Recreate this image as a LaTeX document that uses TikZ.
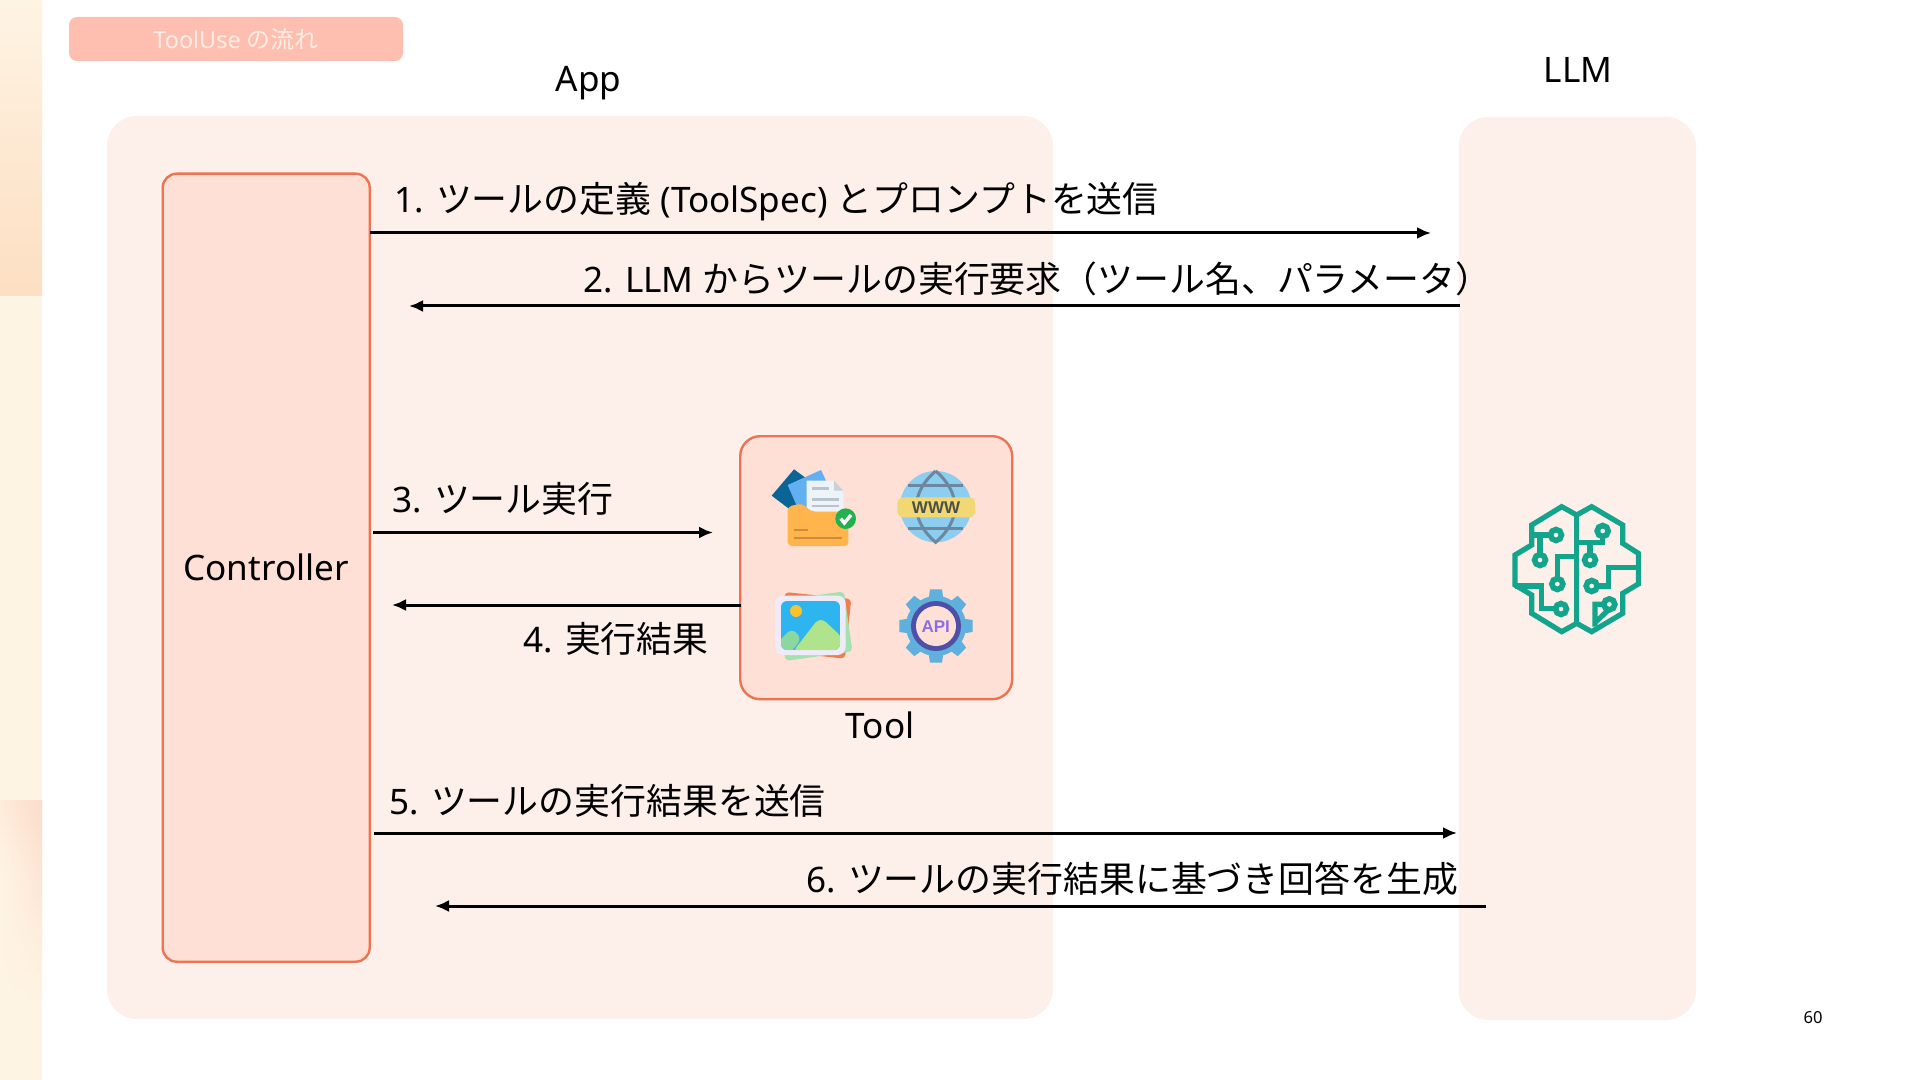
\documentclass[tikz,border=0pt]{standalone}
\usepackage{fontspec}
\setmainfont{Noto Sans}[Scale=0.975]
\newfontfamily\cjk{Noto Sans CJK JP}[Scale=0.997]
\newfontfamily\iconfont{Liberation Sans}
\newcommand{\jp}[1]{{\cjk #1}}
\usetikzlibrary{arrows.meta}
\definecolor{panel}{HTML}{FDEFEA}
\definecolor{boxfill}{HTML}{FEE0D6}
\definecolor{boxline}{HTML}{EE7350}
\definecolor{titlebg}{HTML}{FFBFB0}
\definecolor{titletx}{HTML}{FFEDE6}
\definecolor{strip}{HTML}{FEF4E4}
\definecolor{stripd}{HTML}{FDDFC3}
\definecolor{stripe}{HTML}{FDDCCB}
\definecolor{teal}{HTML}{12A58C}
\definecolor{fdark}{RGB}{10,100,150}
\definecolor{fblue}{RGB}{98,176,242}
\definecolor{fdoc}{RGB}{237,243,248}
\definecolor{fdoc2}{RGB}{200,208,216}
\definecolor{fdocl}{RGB}{185,195,205}
\definecolor{forange}{RGB}{255,181,76}
\definecolor{forange2}{RGB}{205,140,60}
\definecolor{fgreen}{RGB}{34,177,76}
\definecolor{gsea}{RGB}{140,205,240}
\definecolor{gline}{RGB}{108,135,160}
\definecolor{gband}{RGB}{242,216,115}
\definecolor{gtext}{RGB}{75,80,70}
\definecolor{porange}{RGB}{240,125,80}
\definecolor{pgreen}{RGB}{165,225,175}
\definecolor{pframe}{RGB}{240,235,248}
\definecolor{psky}{RGB}{46,180,238}
\definecolor{pmt}{RGB}{175,228,140}
\definecolor{pmt2}{RGB}{140,215,160}
\definecolor{psun}{RGB}{249,194,46}
\definecolor{agear}{RGB}{95,176,220}
\definecolor{aring}{RGB}{79,79,168}
\definecolor{atext}{RGB}{139,111,224}
\tikzset{
  panelbox/.style={fill=panel,draw=none,rounded corners=15pt},
  actorbox/.style={fill=boxfill,draw=boxline,line width=1.2pt},
  flow/.style={-{Latex[length=7pt,width=6pt]},line width=1.5pt,black},
  lbl/.style={anchor=base west,inner sep=0pt,font=\fontsize{18}{22}\selectfont,text=black},
  clbl/.style={anchor=base,inner sep=0pt,font=\fontsize{18}{22}\selectfont,text=black},
  brainline/.style={draw=teal,line width=2.6pt,line join=miter},
  brainnode/.style={draw=teal,line width=2.8pt,fill=panel},
}
\begin{document}
\begin{tikzpicture}[x=0.5pt,y=-0.5pt]
\useasboundingbox (0,0) rectangle (1920,1080);
\fill[white] (0,0) rectangle (1920,1080);
% left strip
\fill[strip] (0,0) rectangle (42,1080);
\shade[top color=strip,bottom color=stripd,middle color=stripd!55!strip] (0,0) rectangle (42,296);
\foreach \t in {0,...,21}{
  \pgfmathsetmacro{\mixr}{max(0,100-4.6*\t)}
  \pgfmathsetmacro{\mixl}{max(0,35-4.6*\t)}
  \pgfmathsetmacro{\yt}{800+9*\t}
  \pgfmathsetmacro{\yb}{810+9*\t}
  \shade[left color=stripe!\mixl!strip,right color=stripe!\mixr!strip] (0,\yt) rectangle (42,\yb);
}
% title
\node[fill=titlebg,rounded corners=4pt,minimum width=167pt,minimum height=22pt,inner sep=0pt,text=titletx,font=\fontsize{12}{14}\selectfont] (title) at (236,39) {ToolUse \jp{の流れ}};
% panels
\path[panelbox] (107,116) rectangle (1053,1019);
\path[panelbox] (1458.5,117) rectangle (1696,1020);
\node[clbl] (app) at (588.5,92) {App};
\node[clbl] (llm) at (1578,83) {LLM};
% controller
\node[actorbox,rounded corners=7pt,minimum width=103.5pt,minimum height=394pt,inner sep=0pt,anchor=north west] (ctrl) at (161.5,172.5) {};
\node[clbl] (ctrltx) at (266,580) {Controller};
% tool
\node[actorbox,rounded corners=10pt,minimum width=136pt,minimum height=131.5pt,inner sep=0pt,anchor=north west] (tool) at (739,435) {};
\node[clbl] (tooltx) at (880,738) {Tool};
% arrow ends
\coordinate (a1s) at (370,233); \coordinate (a1e) at (1431,233);
\coordinate (a2s) at (1460,306); \coordinate (a2e) at (409,306);
\coordinate (a3s) at (373,532.5); \coordinate (a3e) at (713,532.5);
\coordinate (a4s) at (741,605); \coordinate (a4e) at (392,605);
\coordinate (a5s) at (374,833); \coordinate (a5e) at (1457,833);
\coordinate (a6s) at (1486,906); \coordinate (a6e) at (435,906);
\draw[flow] (a1s) -- (a1e);
\draw[flow] (a2s) -- (a2e);
\draw[flow] (a3s) -- (a3e);
\draw[flow] (a4s) -- (a4e);
\draw[flow] (a5s) -- (a5e);
\draw[flow] (a6s) -- (a6e);
% labels
\node[lbl] (l1) at (394,213) {1. \jp{ツールの定義} (ToolSpec) \jp{とプロンプトを送信}};
\node[lbl] (l2) at (583,293) {2. LLM \jp{からツールの実行要求（ツール名、パラメータ）}};
\node[lbl] (l3) at (392,512) {3. \jp{ツール実行}};
\node[lbl] (l4) at (523,652) {4. \jp{実行結果}};
\node[lbl] (l5) at (389,814) {5. \jp{ツールの実行結果を送信}};
\node[lbl] (l6) at (806,892) {6. \jp{ツールの実行結果に基づき回答を生成}};
\node[inner sep=0pt,font=\fontsize{8.5}{10}\selectfont] (pg) at (1813,1018) {60};
% ---------- tool icons (coordinates of a 3x crop)
\begin{scope}[shift={(740,430)},x=0.16667pt,y=-0.16667pt]
 % folder icon
 \fill[fdark] (95,197) -- (162,118) -- (240,175) -- (165,250) -- cycle;
 \fill[fblue] (143,165) -- (243,120) -- (290,220) -- (180,250) -- cycle;
 \fill[fdoc] (200,152) -- (282,152) -- (310,182) -- (310,265) -- (200,265) -- cycle;
 \fill[fdoc2] (282,152) -- (310,182) -- (282,182) -- cycle;
 \foreach \yy/\xx in {176/268,208/297,228/297} \draw[fdocl,line width=1.2pt] (215,\yy) -- (\xx,\yy);
 \fill[forange,rounded corners=2pt] (143,348) -- (143,230) -- (185,220) -- (215,245) -- (325,245) -- (325,348) -- cycle;
 \draw[forange2,line width=1.1pt] (163,300) -- (204,300) (163,325) -- (305,325);
 \fill[fgreen] (317,266) circle[radius=31];
 \draw[white,line width=1.7pt] (302,266) -- (313,279) -- (333,255);
 % globe icon
 \fill[gsea] (587,230) circle[radius=107];
 \draw[gline,line width=1.5pt] (587,123) .. controls (510,190) and (510,270) .. (587,337) .. controls (664,270) and (664,190) .. (587,123);
 \draw[gline,line width=1.5pt] (505,167) -- (669,167) (505,295) -- (669,295);
 \fill[gband,rounded corners=3pt] (472,202) rectangle (705,262);
 \node[inner sep=0pt,font=\iconfont\fontsize{8.5}{10}\selectfont\bfseries,text=gtext] (www) at (588,232) {WWW};
 % picture icon
 \fill[porange,rotate around={-6:(215,585)},rounded corners=2pt] (125,495) rectangle (325,675);
 \fill[pgreen,rotate around={8:(220,585)},rounded corners=2pt] (122,498) rectangle (325,680);
 \fill[pframe,rounded corners=4pt] (105,497) rectangle (317,675);
 \begin{scope}
  \path[clip,rounded corners=3pt] (123,513) rectangle (300,660);
  \fill[psky] (123,513) rectangle (300,660);
  \fill[pmt,rounded corners=4pt] (155,670) -- (240,560) -- (310,625) -- (310,670) -- cycle;
  \fill[pmt2,rounded corners=3pt] (115,635) -- (155,595) -- (185,625) -- (150,670) -- (115,670) -- cycle;
 \end{scope}
 \fill[psun] (168,543) circle[radius=18];
 % api gear icon
 \foreach \ang in {0,45,...,315}
   \fill[agear,rotate around={\ang:(588,588)}] (570,478) -- (606,478) -- (612,520) -- (564,520) -- cycle;
 \fill[agear] (588,588) circle[radius=90];
 \fill[aring] (588,588) circle[radius=75];
 \fill[boxfill] (588,588) circle[radius=60];
 \node[inner sep=0pt,font=\iconfont\fontsize{8.5}{10}\selectfont\bfseries,text=atext] (api) at (587,590) {API};
\end{scope}
% ---------- brain icon
\begin{scope}[shift={(1480,480)},x=0.16667pt,y=-0.16667pt]
 \draw[brainline] (290,105) -- (245,80) -- (155,135) -- (155,195) -- (105,225) -- (105,315) -- (155,345) -- (155,400) -- (245,455) -- (290,430) -- (335,455) -- (428,400) -- (428,340) -- (475,312) -- (475,220) -- (428,190) -- (428,135) -- (335,80) -- cycle;
 \draw[brainline] (290,105) -- (290,430);
 \draw[brainline] (155,165) -- (210,165) (180,165) -- (180,222);
 \draw[brainline] (290,230) -- (232,230) -- (232,295);
 \draw[brainline] (105,318) -- (185,318) -- (185,385) -- (225,385);
 \draw[brainline] (368,170) -- (368,188) -- (290,188) (330,188) -- (330,222);
 \draw[brainline] (470,262) -- (385,262) -- (385,318) -- (352,318);
 \draw[brainline] (370,373) -- (345,373) -- (345,440) (345,428) -- (385,390);
 \foreach \cx/\cy in {228/165,180/240,232/312,243/387,368/153,330/240,335/318,388/373}
   \draw[brainnode] (\cx,\cy) circle[radius=16.5];
\end{scope}
\end{tikzpicture}
\end{document}
